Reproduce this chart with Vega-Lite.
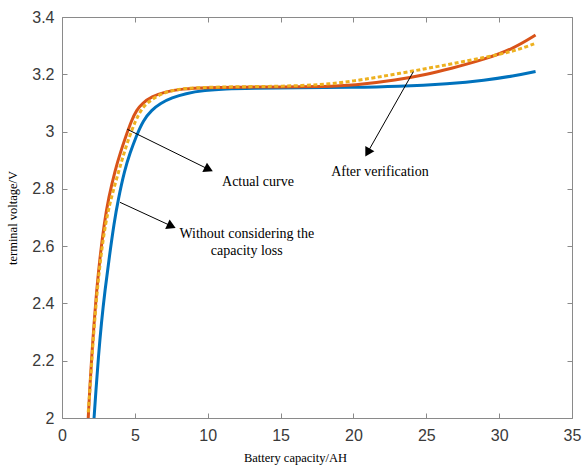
{
  "$schema": "https://vega.github.io/schema/vega-lite/v6.json",
  "width": 510,
  "height": 401,
  "autosize": {"type": "none"},
  "padding": {"left": 62, "top": 17, "right": 11, "bottom": 48},
  "background": "white",
  "config": {
    "view": {"stroke": null},
    "axis": {
      "grid": false,
      "domainColor": "#8a8a8a",
      "domainWidth": 1,
      "tickColor": "#8a8a8a",
      "tickSize": -5,
      "labelFlush": false,
      "labelFont": "Liberation Sans",
      "labelFontSize": 16,
      "labelColor": "#3a3a3a",
      "titleFont": "Liberation Serif",
      "titleFontSize": 12.5,
      "titleFontWeight": "normal",
      "titleColor": "#000000"
    }
  },
  "resolve": {"axis": {"x": "independent", "y": "independent"}},
  "datasets": {
    "curves": [
      {"series": "Without considering the capacity loss", "capacity": 2.2, "voltage": 2.0},
      {"series": "Without considering the capacity loss", "capacity": 2.33, "voltage": 2.098},
      {"series": "Without considering the capacity loss", "capacity": 2.5, "voltage": 2.214},
      {"series": "Without considering the capacity loss", "capacity": 2.7, "voltage": 2.331},
      {"series": "Without considering the capacity loss", "capacity": 2.95, "voltage": 2.447},
      {"series": "Without considering the capacity loss", "capacity": 3.25, "voltage": 2.563},
      {"series": "Without considering the capacity loss", "capacity": 3.57, "voltage": 2.68},
      {"series": "Without considering the capacity loss", "capacity": 3.85, "voltage": 2.761},
      {"series": "Without considering the capacity loss", "capacity": 4.3, "voltage": 2.866},
      {"series": "Without considering the capacity loss", "capacity": 4.66, "voltage": 2.924},
      {"series": "Without considering the capacity loss", "capacity": 5.08, "voltage": 2.982},
      {"series": "Without considering the capacity loss", "capacity": 5.58, "voltage": 3.04},
      {"series": "Without considering the capacity loss", "capacity": 6.15, "voltage": 3.075},
      {"series": "Without considering the capacity loss", "capacity": 6.75, "voltage": 3.099},
      {"series": "Without considering the capacity loss", "capacity": 7.55, "voltage": 3.118},
      {"series": "Without considering the capacity loss", "capacity": 8.45, "voltage": 3.133},
      {"series": "Without considering the capacity loss", "capacity": 9.8, "voltage": 3.144},
      {"series": "Without considering the capacity loss", "capacity": 11.2, "voltage": 3.149},
      {"series": "Without considering the capacity loss", "capacity": 13, "voltage": 3.151},
      {"series": "Without considering the capacity loss", "capacity": 16, "voltage": 3.153},
      {"series": "Without considering the capacity loss", "capacity": 20, "voltage": 3.154},
      {"series": "Without considering the capacity loss", "capacity": 23, "voltage": 3.157},
      {"series": "Without considering the capacity loss", "capacity": 26.6, "voltage": 3.167},
      {"series": "Without considering the capacity loss", "capacity": 29, "voltage": 3.179},
      {"series": "Without considering the capacity loss", "capacity": 31, "voltage": 3.194},
      {"series": "Without considering the capacity loss", "capacity": 32.5, "voltage": 3.21},

      {"series": "Actual curve", "capacity": 1.8, "voltage": 2.0},
      {"series": "Actual curve", "capacity": 1.9, "voltage": 2.098},
      {"series": "Actual curve", "capacity": 2.04, "voltage": 2.214},
      {"series": "Actual curve", "capacity": 2.2, "voltage": 2.331},
      {"series": "Actual curve", "capacity": 2.38, "voltage": 2.447},
      {"series": "Actual curve", "capacity": 2.61, "voltage": 2.563},
      {"series": "Actual curve", "capacity": 2.9, "voltage": 2.68},
      {"series": "Actual curve", "capacity": 3.2, "voltage": 2.77},
      {"series": "Actual curve", "capacity": 3.65, "voltage": 2.866},
      {"series": "Actual curve", "capacity": 3.99, "voltage": 2.924},
      {"series": "Actual curve", "capacity": 4.37, "voltage": 2.982},
      {"series": "Actual curve", "capacity": 4.78, "voltage": 3.04},
      {"series": "Actual curve", "capacity": 5.12, "voltage": 3.075},
      {"series": "Actual curve", "capacity": 5.51, "voltage": 3.099},
      {"series": "Actual curve", "capacity": 6.15, "voltage": 3.122},
      {"series": "Actual curve", "capacity": 7.07, "voltage": 3.139},
      {"series": "Actual curve", "capacity": 8.2, "voltage": 3.149},
      {"series": "Actual curve", "capacity": 10, "voltage": 3.154},
      {"series": "Actual curve", "capacity": 12, "voltage": 3.155},
      {"series": "Actual curve", "capacity": 15, "voltage": 3.156},
      {"series": "Actual curve", "capacity": 18, "voltage": 3.157},
      {"series": "Actual curve", "capacity": 20, "voltage": 3.161},
      {"series": "Actual curve", "capacity": 23, "voltage": 3.18},
      {"series": "Actual curve", "capacity": 25, "voltage": 3.199},
      {"series": "Actual curve", "capacity": 26.6, "voltage": 3.219},
      {"series": "Actual curve", "capacity": 29, "voltage": 3.252},
      {"series": "Actual curve", "capacity": 31, "voltage": 3.29},
      {"series": "Actual curve", "capacity": 32.5, "voltage": 3.337},

      {"series": "After verification", "capacity": 1.8, "voltage": 2.02},
      {"series": "After verification", "capacity": 1.92, "voltage": 2.098},
      {"series": "After verification", "capacity": 2.06, "voltage": 2.214},
      {"series": "After verification", "capacity": 2.23, "voltage": 2.331},
      {"series": "After verification", "capacity": 2.42, "voltage": 2.447},
      {"series": "After verification", "capacity": 2.66, "voltage": 2.563},
      {"series": "After verification", "capacity": 2.98, "voltage": 2.68},
      {"series": "After verification", "capacity": 3.38, "voltage": 2.77},
      {"series": "After verification", "capacity": 3.92, "voltage": 2.866},
      {"series": "After verification", "capacity": 4.25, "voltage": 2.924},
      {"series": "After verification", "capacity": 4.62, "voltage": 2.982},
      {"series": "After verification", "capacity": 5.06, "voltage": 3.04},
      {"series": "After verification", "capacity": 5.42, "voltage": 3.075},
      {"series": "After verification", "capacity": 5.81, "voltage": 3.099},
      {"series": "After verification", "capacity": 6.5, "voltage": 3.124},
      {"series": "After verification", "capacity": 7.3, "voltage": 3.141},
      {"series": "After verification", "capacity": 8.4, "voltage": 3.151},
      {"series": "After verification", "capacity": 10, "voltage": 3.155},
      {"series": "After verification", "capacity": 13, "voltage": 3.157},
      {"series": "After verification", "capacity": 15, "voltage": 3.158},
      {"series": "After verification", "capacity": 17.7, "voltage": 3.163},
      {"series": "After verification", "capacity": 19.8, "voltage": 3.174},
      {"series": "After verification", "capacity": 23.2, "voltage": 3.203},
      {"series": "After verification", "capacity": 26.6, "voltage": 3.235},
      {"series": "After verification", "capacity": 29, "voltage": 3.259},
      {"series": "After verification", "capacity": 31, "voltage": 3.28},
      {"series": "After verification", "capacity": 32.5, "voltage": 3.308}
    ],
    "arrows": [
      {"label": "Actual curve", "fromX": 4.48, "fromY": 3.008, "toX": 10.07, "toY": 2.868},
      {"label": "Without considering the capacity loss", "fromX": 3.98, "fromY": 2.753, "toX": 7.515, "toY": 2.670},
      {"label": "After verification", "fromX": 24.11, "fromY": 3.209, "toX": 20.97, "toY": 2.927}
    ],
    "notes": [
      {"text": "Actual curve", "x": 13.45, "y": 2.824},
      {"text": "Without considering the\ncapacity loss", "x": 12.68, "y": 2.642},
      {"text": "After verification", "x": 21.82, "y": 2.859}
    ]
  },
  "layer": [
    {
      "data": {"name": "curves"},
      "transform": [{"filter": "datum.series === 'Without considering the capacity loss'"}],
      "mark": {"type": "line", "color": "#0072BD", "strokeWidth": 3, "interpolate": "basis"},
      "encoding": {
        "x": {"field": "capacity", "type": "quantitative",
              "scale": {"domain": [0, 35], "nice": false, "zero": false},
              "axis": {"orient": "bottom", "values": [0, 5, 10, 15, 20, 25, 30, 35], "title": "Battery capacity/AH",
                       "labelPadding": 14, "titlePadding": 8, "titleX": 233}},
        "y": {"field": "voltage", "type": "quantitative",
              "scale": {"domain": [2, 3.4], "nice": false, "zero": false},
              "axis": {"orient": "left", "values": [2, 2.2, 2.4, 2.6, 2.8, 3, 3.2, 3.4], "format": "~g", "title": "terminal voltage/V",
                       "labelPadding": 13, "titlePadding": 12}}
      }
    },
    {
      "data": {"name": "curves"},
      "transform": [{"filter": "datum.series === 'Actual curve'"}],
      "mark": {"type": "line", "color": "#D95319", "strokeWidth": 3, "interpolate": "basis"},
      "encoding": {
        "x": {"field": "capacity", "type": "quantitative",
              "axis": {"orient": "top", "values": [0, 5, 10, 15, 20, 25, 30, 35], "labels": false, "title": null}},
        "y": {"field": "voltage", "type": "quantitative",
              "axis": {"orient": "right", "values": [2, 2.2, 2.4, 2.6, 2.8, 3, 3.2, 3.4], "labels": false, "title": null}}
      }
    },
    {
      "data": {"name": "curves"},
      "transform": [{"filter": "datum.series === 'After verification'"}],
      "mark": {"type": "line", "color": "#EDB120", "strokeWidth": 3, "strokeDash": [4, 2.5], "interpolate": "basis"},
      "encoding": {
        "x": {"field": "capacity", "type": "quantitative", "axis": null},
        "y": {"field": "voltage", "type": "quantitative", "axis": null}
      }
    },
    {
      "data": {"name": "arrows"},
      "mark": {"type": "rule", "color": "#000000", "strokeWidth": 1},
      "encoding": {
        "x": {"field": "fromX", "type": "quantitative", "axis": null},
        "y": {"field": "fromY", "type": "quantitative", "axis": null},
        "x2": {"field": "toX"},
        "y2": {"field": "toY"}
      }
    },
    {
      "data": {"name": "arrows"},
      "transform": [{"filter": "datum.label === 'Actual curve'"}],
      "mark": {"type": "point", "shape": "triangle-up", "filled": true, "color": "#000000", "opacity": 1, "size": 110, "angle": 116},
      "encoding": {
        "x": {"field": "toX", "type": "quantitative", "axis": null},
        "y": {"field": "toY", "type": "quantitative", "axis": null}
      }
    },
    {
      "data": {"name": "arrows"},
      "transform": [{"filter": "datum.label === 'Without considering the capacity loss'"}],
      "mark": {"type": "point", "shape": "triangle-up", "filled": true, "color": "#000000", "opacity": 1, "size": 110, "angle": 115},
      "encoding": {
        "x": {"field": "toX", "type": "quantitative", "axis": null},
        "y": {"field": "toY", "type": "quantitative", "axis": null}
      }
    },
    {
      "data": {"name": "arrows"},
      "transform": [{"filter": "datum.label === 'After verification'"}],
      "mark": {"type": "point", "shape": "triangle-up", "filled": true, "color": "#000000", "opacity": 1, "size": 110, "angle": 210},
      "encoding": {
        "x": {"field": "toX", "type": "quantitative", "axis": null},
        "y": {"field": "toY", "type": "quantitative", "axis": null}
      }
    },
    {
      "data": {"name": "notes"},
      "mark": {"type": "text", "font": "Liberation Serif", "fontSize": 14, "color": "#000000", "align": "center", "baseline": "middle", "lineBreak": "\n", "lineHeight": 17},
      "encoding": {
        "x": {"field": "x", "type": "quantitative", "axis": null},
        "y": {"field": "y", "type": "quantitative", "axis": null},
        "text": {"field": "text"}
      }
    }
  ]
}
